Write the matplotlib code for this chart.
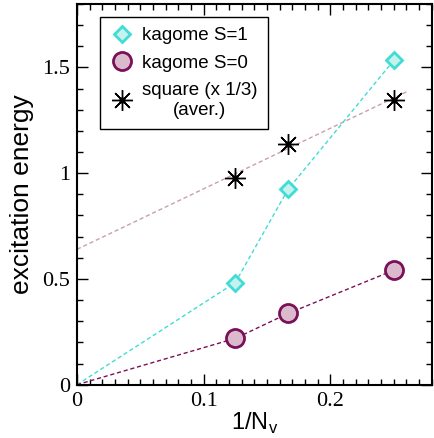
import matplotlib
matplotlib.use('Agg')
import matplotlib.pyplot as plt
from matplotlib.lines import Line2D
from matplotlib.ticker import MultipleLocator

# 1/N_v values, the first point (0) is the extrapolation to infinite size
invN = [0.0, 1/8, 1/6, 1/4]
kagomeS1 = [0.0, 0.483, 0.924, 1.533]
kagomeS0 = [0.0, 0.219, 0.337, 0.541]

# square lattice (x 1/3, averaged) and its linear fit
invNsquare = [1/8, 1/6, 1/4]
square = [0.975, 1.140, 1.344]
fitX = [0.0, 0.26]
fitY = [0.64, 1.384]

labels = ['kagome S=1', 'kagome S=0', 'square (x 1/3)\n(aver.)']
xTicks = [0, 0.1, 0.2]
xTickLabels = ['0', '0.1', '0.2']
yTicks = [0, 0.5, 1, 1.5]
yTickLabels = ['0', '0.5', '1', '1.5']

cyan = '#40dcd6'
maroon = '#7a1158'
pink = '#c9a0a8'

fig = plt.figure(figsize=(4.34, 4.38), dpi=100)
ax = fig.add_subplot(111)
fig.subplots_adjust(left=0.1774, right=0.9947, top=0.9909, bottom=0.1217)

# fitted line for the square lattice first, so the markers sit on top
ax.plot(fitX, fitY, color=pink, lw=1.0, ls=(0, (3, 2)))

s1, = ax.plot(invN, kagomeS1, color=cyan, lw=1.0, ls=(0, (3, 2)),
              marker='D', ms=8, mfc='#c6f2ee', mec=cyan, mew=2, markevery=[1, 2, 3])
s0, = ax.plot(invN, kagomeS0, color=maroon, lw=1.0, ls=(0, (3, 2)),
              marker='o', ms=13, mfc='#dbbacd', mec=maroon, mew=2, markevery=[1, 2, 3])
sq, = ax.plot(invNsquare, square, ls='none', marker=(8, 2, 0), ms=15, mec='black', mew=1.0)
sqDot, = ax.plot(invNsquare, square, ls='none', marker='o', ms=3.5, mfc='black', mec='black')

ax.set_xlim(0, 0.28)
ax.set_ylim(0, 1.8)
ax.set_xticks(xTicks)
ax.set_xticklabels(xTickLabels)
ax.set_yticks(yTicks)
ax.set_yticklabels(yTickLabels)
ax.xaxis.set_minor_locator(MultipleLocator(0.01))
ax.yaxis.set_minor_locator(MultipleLocator(0.1))

ax.tick_params(which='both', direction='in', top=True, right=True, width=1.0)
ax.tick_params(which='major', length=8, pad=5)
ax.tick_params(which='minor', length=4)
for lab in ax.get_xticklabels() + ax.get_yticklabels():
    lab.set_fontfamily('Liberation Serif')
    lab.set_fontsize(16)
for sp in ax.spines.values():
    sp.set_linewidth(1.5)

ax.set_xlabel(r'1/N$_\mathregular{v}$', fontsize=17, family='Liberation Sans', labelpad=0)
ax.set_ylabel('excitation energy', fontsize=19, family='Liberation Sans', labelpad=6)

# legend shows symbols only
h1 = Line2D([], [], ls='none', marker='D', ms=8, mfc='#c6f2ee', mec=cyan, mew=2)
h2 = Line2D([], [], ls='none', marker='o', ms=13, mfc='#dbbacd', mec=maroon, mew=2)
h3a = Line2D([], [], ls='none', marker=(8, 2, 0), ms=15, mec='black', mew=1.0)
h3b = Line2D([], [], ls='none', marker='o', ms=3.5, mfc='black', mec='black')
leg = ax.legend([h1, h2, (h3a, h3b)], labels, loc='upper left',
                bbox_to_anchor=(0.065, 0.966), borderaxespad=0, fancybox=False,
                edgecolor='black', framealpha=1, handlelength=1.2, handletextpad=0.5,
                labelspacing=0.55, borderpad=0.55,
                prop={'family': 'Liberation Sans', 'size': 13.5})
leg.get_frame().set_linewidth(1.0)
for t in leg.get_texts():
    t.set_multialignment('center')

fig.savefig('out.png', dpi=100)
